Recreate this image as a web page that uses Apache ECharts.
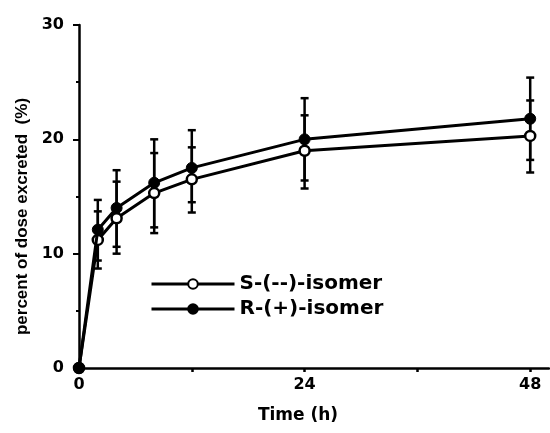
<!DOCTYPE html>
<html>
<head>
<meta charset="utf-8">
<script src="https://cdn.jsdelivr.net/npm/echarts@6/dist/echarts.min.js"></script>
<style>html,body{margin:0;padding:0;background:#fff}#c{width:550px;height:433px}</style>
</head>
<body>
<div id="c"></div>
<script>
const times = [0, 2, 4, 8, 12, 24, 48];
const sMean = [0, 11.2, 13.1, 15.3, 16.5, 19.0, 20.3];
const rMean = [0, 12.1, 14.0, 16.2, 17.5, 20.0, 21.8];
const sLow  = [null, 8.7, 10.0, 11.8, 14.5, 15.7, 17.1];
const sHigh = [null, 13.7, 16.3, 18.8, 19.3, 22.1, 23.4];
const rLow  = [null, 9.4, 10.6, 12.3, 13.6, 16.4, 18.2];
const rHigh = [null, 14.7, 17.3, 20.0, 20.8, 23.6, 25.4];
const xTickValues = [0, 12, 24, 36, 48];
const xLabelValues = [0, 24, 48];
const seriesNames = ['S-(--)-isomer', 'R-(+)-isomer'];

const chart = echarts.init(document.getElementById('c'), null, {renderer: 'canvas'});

function errData(low, high) {
  const out = [];
  for (let i = 0; i < times.length; i++) {
    if (low[i] != null) out.push([times[i], low[i], high[i]]);
  }
  return out;
}
function errRender(params, api) {
  const x = api.value(0);
  const lo = api.coord([x, api.value(1)]);
  const hi = api.coord([x, api.value(2)]);
  const w = 4;
  const st = {stroke: '#000', lineWidth: 2.5};
  return {
    type: 'group',
    children: [
      {type: 'line', shape: {x1: lo[0], y1: lo[1], x2: hi[0], y2: hi[1]}, style: st},
      {type: 'line', shape: {x1: lo[0] - w, y1: lo[1], x2: lo[0] + w, y2: lo[1]}, style: st},
      {type: 'line', shape: {x1: hi[0] - w, y1: hi[1], x2: hi[0] + w, y2: hi[1]}, style: st}
    ]
  };
}

const tickFont = {color: '#000', fontFamily: 'DejaVu Sans', fontWeight: 'bold', fontSize: 16};

chart.setOption({
  animation: false,
  backgroundColor: '#fff',
  grid: {left: 79, top: 25, right: 1, bottom: 65},
  legend: {
    left: 150, top: 273, orient: 'vertical', padding: 0,
    itemWidth: 83, itemHeight: 12, itemGap: 3,
    data: seriesNames,
    lineStyle: {width: 3},
    textStyle: {color: '#000', fontFamily: 'DejaVu Sans', fontWeight: 'bold', fontSize: 20, lineHeight: 22}
  },
  xAxis: {
    type: 'value', min: 0, max: 50,
    name: 'Time (h)', nameLocation: 'middle', nameGap: 39,
    nameTextStyle: {color: '#000', fontFamily: 'DejaVu Sans', fontWeight: 'bold', fontSize: 17, padding: [0, 32, 0, 0]},
    axisLine: {lineStyle: {color: '#000', width: 2.5}},
    axisTick: {show: true, customValues: xTickValues, length: 4, lineStyle: {color: '#000', width: 2.5}},
    axisLabel: {customValues: xLabelValues, margin: 9, ...tickFont},
    splitLine: {show: false}
  },
  yAxis: {
    type: 'value', min: 0, max: 30, interval: 10,
    name: 'percent of dose excreted  (%)', nameLocation: 'middle', nameGap: 47,
    nameTextStyle: {color: '#000', fontFamily: 'Liberation Sans', fontWeight: 'bold', fontSize: 17, padding: [0, 40, 0, 0]},
    axisLine: {show: true, lineStyle: {color: '#000', width: 2.5}},
    axisTick: {show: true, length: 6, lineStyle: {color: '#000', width: 2}},
    minorTick: {show: true, splitNumber: 2, length: 3, lineStyle: {color: '#000', width: 2}},
    axisLabel: {margin: 15, ...tickFont},
    splitLine: {show: false}
  },
  series: [
    {type: 'custom', renderItem: errRender, data: errData(sLow, sHigh), z: 1, silent: true},
    {type: 'custom', renderItem: errRender, data: errData(rLow, rHigh), z: 1, silent: true},
    {
      name: seriesNames[0], type: 'line', z: 3,
      data: times.map((t, i) => [t, sMean[i]]),
      symbol: 'circle', symbolSize: 10,
      lineStyle: {color: '#000', width: 3},
      itemStyle: {color: '#fff', borderColor: '#000', borderWidth: 2.5}
    },
    {
      name: seriesNames[1], type: 'line', z: 4,
      data: times.map((t, i) => [t, rMean[i]]),
      symbol: 'circle', symbolSize: 11,
      lineStyle: {color: '#000', width: 3},
      itemStyle: {color: '#000', borderColor: '#000', borderWidth: 1}
    }
  ]
});
</script>
</body>
</html>
